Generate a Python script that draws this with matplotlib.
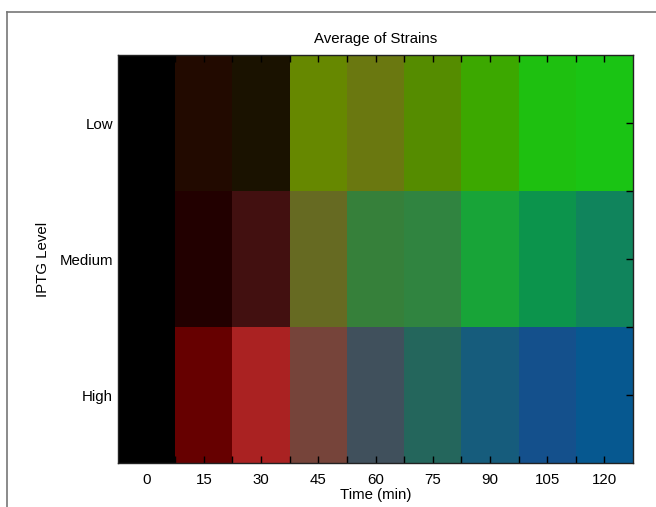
import numpy as np
import matplotlib
matplotlib.use('Agg')
import matplotlib.pyplot as plt
from matplotlib.lines import Line2D

plt.rcParams['font.family'] = ['Liberation Sans', 'DejaVu Sans']

# Datos
times = [0, 15, 30, 45, 60, 75, 90, 105, 120]
levels = ['Low', 'Medium', 'High']

# Colores RGB (0-255), una lista por nivel de IPTG
low_rgb = [(0, 0, 0), (34, 10, 0), (26, 18, 0), (102, 136, 0), (106, 120, 16),
           (85, 140, 0), (60, 168, 0), (30, 192, 16), (26, 196, 20)]
medium_rgb = [(0, 0, 0), (34, 0, 0), (66, 16, 16), (102, 106, 34), (54, 128, 58),
              (48, 132, 64), (24, 164, 56), (12, 148, 76), (16, 132, 92)]
high_rgb = [(0, 0, 0), (102, 0, 0), (170, 34, 34), (118, 68, 58), (64, 80, 92),
            (36, 102, 92), (22, 92, 124), (20, 80, 140), (6, 88, 144)]

img = np.array([low_rgb, medium_rgb, high_rgb]) / 255.0

fs = 10.8

fig = plt.figure(figsize=(6.56, 5.07), dpi=100)
ax = fig.add_axes([118/656, 1 - 463/507, (633 - 118)/656, (463 - 55)/507])

dt = times[1] - times[0]
ax.imshow(img, aspect='auto', interpolation='nearest',
          extent=(times[0] - dt/2, times[-1] + dt/2, len(levels) - 0.5, -0.5))

ax.set_xticks(times)
ax.set_xticklabels([str(t) for t in times])
ax.set_xticks([t + dt/2 for t in times[:-1]], minor=True)
ax.set_yticks(range(len(levels)))
ax.set_yticklabels(levels)
ax.set_yticks([i + 0.5 for i in range(len(levels) - 1)], minor=True)

ax.tick_params(which='both', direction='in', top=True, right=True,
               length=5, width=1, color='black', labelsize=fs)
ax.tick_params(axis='x', pad=7)
ax.tick_params(axis='y', pad=3.6)

ax.set_title('Average of Strains', fontsize=fs, pad=9)
ax.set_xlabel('Time (min)', fontsize=fs, labelpad=1)
ax.set_ylabel('IPTG Level', fontsize=fs, labelpad=7)

for s in ax.spines.values():
    s.set_linewidth(1)
    s.set_color('#222222')

# marco de la ventana
fig.add_artist(Line2D([7/656, 7/656], [0, 1 - 12/507], color='#777777', lw=1.2,
                      transform=fig.transFigure))
fig.add_artist(Line2D([7/656, 1], [1 - 12/507, 1 - 12/507], color='#777777', lw=1.2,
                      transform=fig.transFigure))

fig.savefig('out.png', dpi=100)
